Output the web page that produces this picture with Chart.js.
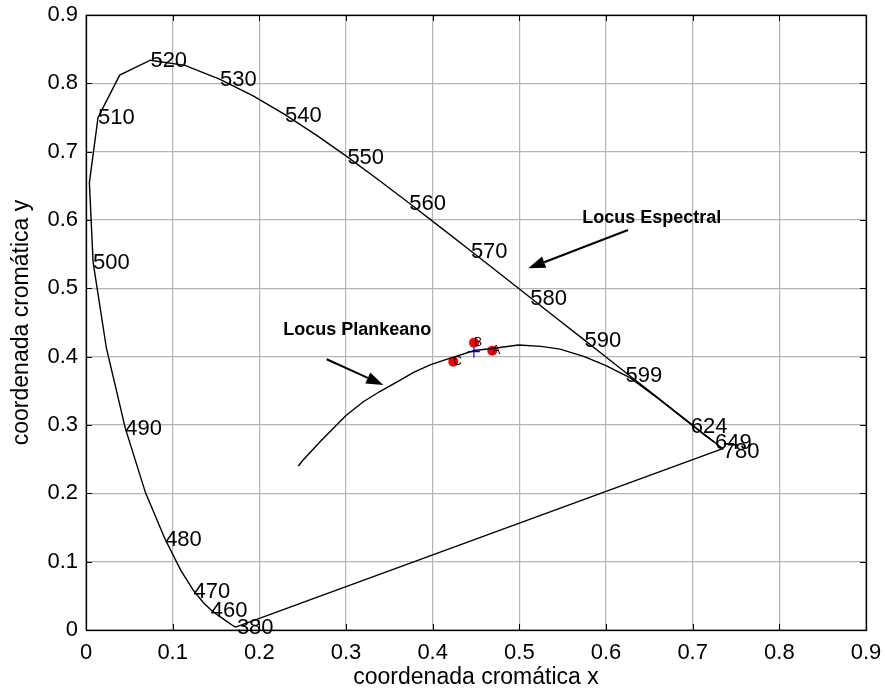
<!DOCTYPE html>
<html>
<head>
<meta charset="utf-8">
<script src="https://cdn.jsdelivr.net/npm/chart.js@4.4.1/dist/chart.umd.min.js"></script>
<style>
  html, body { margin: 0; padding: 0; background: #fff; }
  #wrap { width: 885px; height: 694px; }
</style>
</head>
<body>
<div id="wrap"><canvas id="cieChart" width="885" height="694"></canvas></div>
<script>
// CIE 1931 spectral locus, 380..700 nm every 5 nm, then 780 nm
var locusX = [0.1741, 0.1740, 0.1738, 0.1736, 0.1733, 0.1730, 0.1726, 0.1721, 0.1714, 0.1703,
              0.1689, 0.1669, 0.1644, 0.1611, 0.1566, 0.1510, 0.1440, 0.1355, 0.1241, 0.1096,
              0.0913, 0.0687, 0.0454, 0.0235, 0.0082, 0.0039, 0.0139, 0.0389, 0.0743, 0.1142,
              0.1547, 0.1929, 0.2296, 0.2658, 0.3016, 0.3373, 0.3731, 0.4087, 0.4441, 0.4788,
              0.5125, 0.5448, 0.5752, 0.6029, 0.6270, 0.6482, 0.6658, 0.6801, 0.6915, 0.7006,
              0.7079, 0.7140, 0.7190, 0.7230, 0.7260, 0.7283, 0.7300, 0.7311, 0.7320, 0.7327,
              0.7334, 0.7340, 0.7344, 0.7346, 0.7347, 0.7347];
var locusY = [0.0050, 0.0050, 0.0049, 0.0049, 0.0048, 0.0048, 0.0048, 0.0048, 0.0051, 0.0058,
              0.0069, 0.0086, 0.0109, 0.0138, 0.0177, 0.0227, 0.0297, 0.0399, 0.0578, 0.0868,
              0.1327, 0.2007, 0.2950, 0.4127, 0.5384, 0.6548, 0.7502, 0.8120, 0.8338, 0.8262,
              0.8059, 0.7816, 0.7543, 0.7243, 0.6923, 0.6589, 0.6245, 0.5896, 0.5547, 0.5202,
              0.4866, 0.4544, 0.4242, 0.3965, 0.3725, 0.3514, 0.3340, 0.3197, 0.3083, 0.2993,
              0.2920, 0.2859, 0.2809, 0.2770, 0.2740, 0.2717, 0.2700, 0.2689, 0.2680, 0.2673,
              0.2666, 0.2660, 0.2656, 0.2654, 0.2653, 0.2653];

// line of purples, 780 nm back to 380 nm
var purpleX = [0.7347, 0.1741];
var purpleY = [0.2653, 0.0050];

// wavelength labels along the locus
var nmLabels = ['380', '460', '470', '480', '490', '500', '510', '520', '530', '540',
                '550', '560', '570', '580', '590', '599', '624', '649', '780'];
var nmX = [0.1741, 0.1440, 0.1241, 0.0913, 0.0454, 0.0082, 0.0139, 0.0743, 0.1547, 0.2296,
           0.3016, 0.3731, 0.4441, 0.5125, 0.5752, 0.6226, 0.6977, 0.7257, 0.7347];
var nmY = [0.0050, 0.0297, 0.0578, 0.1327, 0.2950, 0.5384, 0.7502, 0.8338, 0.8059, 0.7543,
           0.6923, 0.6245, 0.5547, 0.4866, 0.4242, 0.3727, 0.2990, 0.2750, 0.2620];

// Planckian locus
var planckX = [0.245, 0.250, 0.272, 0.300, 0.320, 0.339, 0.360, 0.378, 0.397, 0.416, 0.448,
               0.469, 0.499, 0.525, 0.547, 0.575, 0.600, 0.628, 0.660, 0.693, 0.715, 0.725];
var planckY = [0.240, 0.248, 0.278, 0.314, 0.334, 0.349, 0.364, 0.377, 0.388, 0.396, 0.409,
               0.412, 0.417, 0.415, 0.411, 0.400, 0.387, 0.369, 0.339, 0.306, 0.284, 0.275];

// measured samples
var sampleNames = ['A', 'B', 'C'];
var sampleX = [0.4688, 0.4477, 0.4238];
var sampleY = [0.4088, 0.4205, 0.3927];

// reference white
var refX = [0.4476];
var refY = [0.4074];

// annotations: text and arrows (data units)
var noteText = ['Locus Espectral', 'Locus Plankeano'];
var noteX = [0.5726, 0.2276];
var noteY = [0.6034, 0.4390];
var arrowFromX = [0.6254, 0.2777];
var arrowFromY = [0.5854, 0.3962];
var arrowToX = [0.5103, 0.3430];
var arrowToY = [0.5293, 0.3586];

var tickValues = [0, 0.1, 0.2, 0.3, 0.4, 0.5, 0.6, 0.7, 0.8, 0.9];
var tickLabels = ['0', '0.1', '0.2', '0.3', '0.4', '0.5', '0.6', '0.7', '0.8', '0.9'];

var FONT = '"Liberation Sans", Arial, Helvetica, sans-serif';

function toPoints(xs, ys) {
    return xs.map(function (x, i) { return { x: x, y: ys[i] }; });
}

// box, inner tick marks, text labels and arrows
var overlay = {
    id: 'overlay',
    afterDatasetsDraw: function (chart) {
        var ctx = chart.ctx;
        var xs = chart.scales.x, ys = chart.scales.y;
        var a = chart.chartArea;

        ctx.save();
        ctx.strokeStyle = '#000';
        ctx.lineWidth = 1;
        ctx.beginPath();
        tickValues.forEach(function (v) {
            var px = Math.round(xs.getPixelForValue(v)) + 0.5;
            var py = Math.round(ys.getPixelForValue(v)) + 0.5;
            ctx.moveTo(px, a.bottom); ctx.lineTo(px, a.bottom - 6);
            ctx.moveTo(px, a.top); ctx.lineTo(px, a.top + 6);
            ctx.moveTo(a.left, py); ctx.lineTo(a.left + 6, py);
            ctx.moveTo(a.right, py); ctx.lineTo(a.right - 6, py);
        });
        ctx.stroke();
        ctx.lineWidth = 1.3;
        ctx.strokeRect(a.left + 0.5, a.top + 0.5, a.right - a.left, a.bottom - a.top);

        // wavelengths
        ctx.fillStyle = '#000';
        ctx.textAlign = 'left';
        ctx.textBaseline = 'middle';
        ctx.font = '22px ' + FONT;
        nmLabels.forEach(function (t, i) {
            ctx.fillText(t, xs.getPixelForValue(nmX[i]), ys.getPixelForValue(nmY[i]) + 1);
        });

        // sample names
        ctx.font = '12px ' + FONT;
        sampleNames.forEach(function (t, i) {
            ctx.fillText(t, xs.getPixelForValue(sampleX[i]), ys.getPixelForValue(sampleY[i]));
        });

        // notes
        ctx.font = 'bold 18px ' + FONT;
        noteText.forEach(function (t, i) {
            ctx.fillText(t, xs.getPixelForValue(noteX[i]), ys.getPixelForValue(noteY[i]));
        });

        // arrows
        ctx.lineWidth = 2;
        arrowFromX.forEach(function (fx, i) {
            var x0 = xs.getPixelForValue(fx), y0 = ys.getPixelForValue(arrowFromY[i]);
            var x1 = xs.getPixelForValue(arrowToX[i]), y1 = ys.getPixelForValue(arrowToY[i]);
            var ang = Math.atan2(y1 - y0, x1 - x0);
            var hl = 17, hw = 6;
            var bx = x1 - hl * Math.cos(ang), by = y1 - hl * Math.sin(ang);
            ctx.beginPath();
            ctx.moveTo(x0, y0);
            ctx.lineTo(bx, by);
            ctx.stroke();
            ctx.beginPath();
            ctx.moveTo(x1, y1);
            ctx.lineTo(bx + hw * Math.sin(ang), by - hw * Math.cos(ang));
            ctx.lineTo(bx - hw * Math.sin(ang), by + hw * Math.cos(ang));
            ctx.closePath();
            ctx.fill();
        });
        ctx.restore();
    }
};

var lineSet = function (data) {
    return {
        data: data,
        showLine: true,
        borderColor: '#000',
        borderWidth: 1.4,
        pointRadius: 0,
        fill: false,
        tension: 0
    };
};

var axis = function (title, isX) {
    return {
        type: 'linear',
        min: 0,
        max: 0.9,
        afterBuildTicks: function (scale) {
            scale.ticks = tickValues.map(function (v) { return { value: v }; });
        },
        afterFit: function (scale) {
            if (isX) { scale.height = 64; } else { scale.width = 86; }
            // keep the plot box fixed: no extra room for overhanging end labels
            scale.paddingLeft = scale.paddingRight = 0;
            scale.paddingTop = scale.paddingBottom = 0;
        },
        ticks: {
            color: '#000',
            padding: isX ? 10 : 8,
            font: { family: FONT, size: 22 },
            maxRotation: 0,
            autoSkip: false,
            callback: function (v, i) { return tickLabels[i]; }
        },
        grid: { color: '#b4b4b4', lineWidth: 1.2, drawTicks: false },
        border: { display: false },
        title: {
            display: true,
            text: title,
            color: '#000',
            font: { family: FONT, size: 23 },
            padding: isX ? { top: 0, bottom: 3 } : { top: 8, bottom: 0 }
        }
    };
};

new Chart(document.getElementById('cieChart').getContext('2d'), {
    type: 'scatter',
    data: {
        datasets: [
            lineSet(toPoints(locusX, locusY)),
            lineSet(toPoints(purpleX, purpleY)),
            lineSet(toPoints(planckX, planckY)),
            {
                data: toPoints(sampleX, sampleY),
                pointRadius: 5,
                pointBackgroundColor: '#f00',
                pointBorderWidth: 0,
                showLine: false
            },
            {
                data: toPoints(refX, refY),
                pointStyle: 'cross',
                pointRadius: 6,
                pointBorderColor: '#00f',
                pointBorderWidth: 1.2,
                showLine: false
            }
        ]
    },
    options: {
        responsive: false,
        animation: false,
        layout: { padding: { top: 15, right: 19, left: 0, bottom: 0 } },
        plugins: {
            legend: { display: false },
            tooltip: { enabled: false }
        },
        scales: {
            x: axis('coordenada cromática x', true),
            y: axis('coordenada cromática y', false)
        }
    },
    plugins: [overlay]
});
</script>
</body>
</html>
